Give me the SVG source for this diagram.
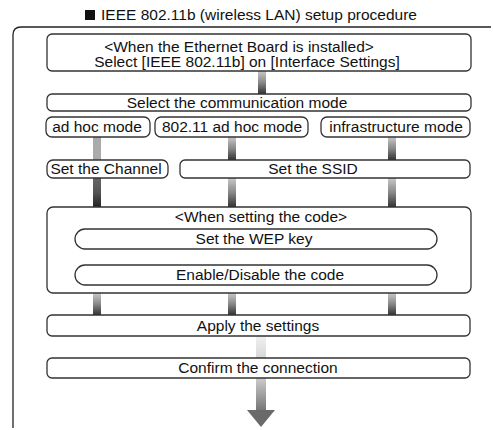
<svg xmlns="http://www.w3.org/2000/svg" width="493" height="430" viewBox="0 0 493 430">
<style>
text{font-family:"Liberation Sans",Arial,sans-serif;font-size:15.5px;fill:#111;text-anchor:middle}
.b{fill:#fff;stroke:#333;stroke-width:1.3}
.f{fill:none;stroke:#222;stroke-width:1.3}
</style>
<defs>
<linearGradient id="gLD" x1="0" y1="0" x2="0" y2="1">
<stop offset="0" stop-color="#c8c8c8"/><stop offset="0.5" stop-color="#888"/><stop offset="1" stop-color="#333"/>
</linearGradient>
<linearGradient id="gDD" x1="0" y1="0" x2="0" y2="1">
<stop offset="0" stop-color="#666"/><stop offset="0.5" stop-color="#555"/><stop offset="1" stop-color="#222"/>
</linearGradient>
<linearGradient id="gL" x1="0" y1="0" x2="0" y2="1">
<stop offset="0" stop-color="#f0f0f0"/><stop offset="1" stop-color="#d8d8d8"/>
</linearGradient>
<linearGradient id="gArr" x1="0" y1="0" x2="0" y2="1">
<stop offset="0" stop-color="#ccc"/><stop offset="1" stop-color="#777"/>
</linearGradient>
</defs>
<rect x="85" y="10" width="10" height="10" fill="#111"/>
<text x="259" y="20" font-size="16">IEEE 802.11b (wireless LAN) setup procedure</text>
<path class="f" d="M491 27 H21 Q13 27 13 35 V428"/>
<g id="connectors">
<rect x="258" y="71" width="8" height="23" fill="url(#gLD)"/>
<rect x="93" y="137" width="8" height="23" fill="#aaa"/>
<rect x="228" y="137" width="8" height="23" fill="url(#gLD)"/>
<rect x="388" y="137" width="8" height="23" fill="url(#gLD)"/>
<rect x="93" y="178" width="8" height="29" fill="url(#gDD)"/>
<rect x="228" y="178" width="8" height="29" fill="url(#gLD)"/>
<rect x="388" y="178" width="8" height="29" fill="url(#gLD)"/>
<rect x="256" y="249" width="8" height="16" fill="#999"/>
<rect x="93" y="293" width="8" height="22" fill="url(#gLD)"/>
<rect x="228" y="293" width="8" height="22" fill="url(#gLD)"/>
<rect x="388" y="293" width="8" height="22" fill="url(#gLD)"/>
<rect x="256" y="336" width="10" height="22" fill="url(#gL)"/>
<rect x="256" y="378" width="10" height="32" fill="url(#gArr)"/>
<polygon points="247,410 275,410 261,427" fill="#6a6a6a"/>
</g>
<g id="n1"><rect class="b" x="47" y="34" width="424" height="37" rx="5"/>
<text x="239" y="52" font-size="14.6">&lt;When the Ethernet Board is installed&gt;</text>
<text x="247" y="67">Select [IEEE 802.11b] on [Interface Settings]</text></g>
<g id="n2"><rect class="b" x="47" y="94" width="424" height="17" rx="5"/>
<text x="237" y="108">Select the communication mode</text></g>
<g id="n3"><rect class="b" x="46" y="117" width="104" height="20" rx="6"/>
<text x="97" y="132">ad hoc mode</text></g>
<g id="n4"><rect class="b" x="155" y="117" width="153" height="20" rx="6"/>
<text x="232" y="132">802.11 ad hoc mode</text></g>
<g id="n5"><rect class="b" x="321" y="117" width="149" height="20" rx="6"/>
<text x="396" y="132">infrastructure mode</text></g>
<g id="n6"><rect class="b" x="47" y="160" width="121" height="18" rx="6"/>
<text x="106" y="174">Set the Channel</text></g>
<g id="n7"><rect class="b" x="180" y="160" width="290" height="18" rx="5"/>
<text x="313" y="174">Set the SSID</text></g>
<g id="n8"><rect class="b" x="47" y="207" width="424" height="86" rx="6"/>
<text x="261" y="222">&lt;When setting the code&gt;</text></g>
<g id="n9"><rect class="b" x="75" y="229" width="362" height="20" rx="10"/>
<text x="254" y="244">Set the WEP key</text></g>
<g id="n10"><rect class="b" x="75" y="265" width="362" height="20" rx="10"/>
<text x="260" y="280">Enable/Disable the code</text></g>
<g id="n11"><rect class="b" x="47" y="315" width="423" height="21" rx="5"/>
<text x="258" y="331">Apply the settings</text></g>
<g id="n12"><rect class="b" x="47" y="358" width="423" height="20" rx="5"/>
<text x="258" y="373">Confirm the connection</text></g>
</svg>
